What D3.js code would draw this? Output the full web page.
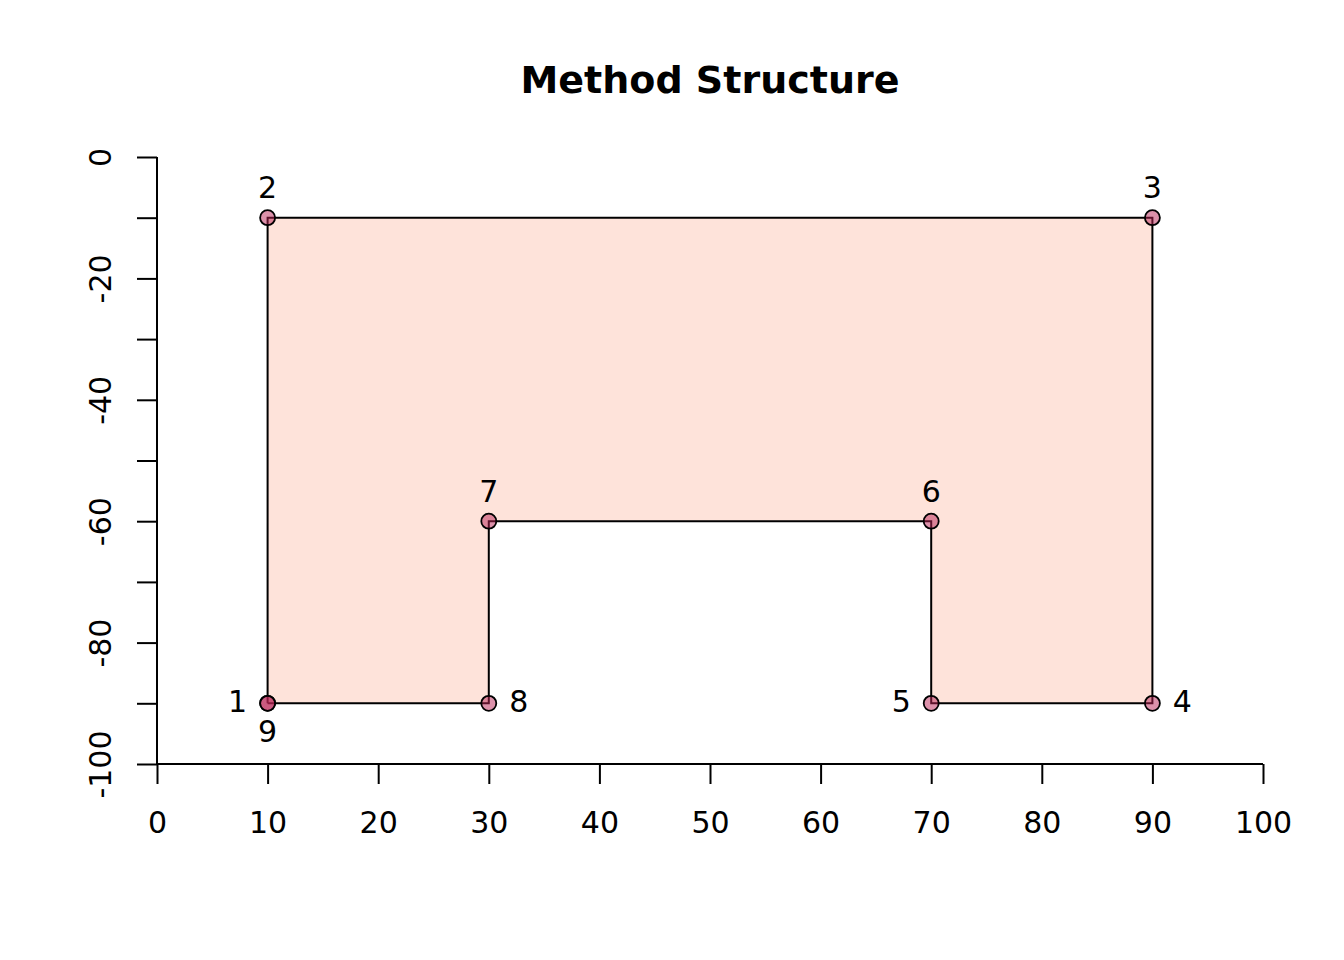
<!DOCTYPE html>
<html>
<head>
<meta charset="utf-8">
<script src="https://cdn.jsdelivr.net/npm/d3@7"></script>
<style>
  html, body { margin: 0; padding: 0; background: #fff; }
  svg text { font-family: "DejaVu Sans", sans-serif; }
</style>
</head>
<body>
<svg id="chart" width="1344" height="960"></svg>
<script>
// Vertices of the method outline, in drawing order (last closes the shape)
const xValues = [10, 10, 90, 90, 70, 70, 30, 30, 10];
const yValues = [-90, -10, -10, -90, -90, -60, -60, -90, -90];
const pointLabels = ["1", "2", "3", "4", "5", "6", "7", "8", "9"];
// Side of each vertex its number sits on
const labelSides = ["left", "above", "above", "right", "left", "above", "above", "right", "below"];
const xTicks = [0, 10, 20, 30, 40, 50, 60, 70, 80, 90, 100];
const yTicks = [0, -10, -20, -30, -40, -50, -60, -70, -80, -90, -100];
const yTickLabels = [0, -20, -40, -60, -80, -100];
const title = "Method Structure";

const svg = d3.select("#chart");
const fontSize = 30;

const x = d3.scaleLinear().domain([0, 100]).range([157, 1263]);
const y = d3.scaleLinear().domain([0, -100]).range([157, 764]);

const pts = xValues.map((v, i) => ({ x: v, y: yValues[i], label: pointLabels[i], side: labelSides[i] }));

// Filled polygon
svg.append("path")
  .datum(pts)
  .attr("d", d3.line().x(d => x(d.x)).y(d => y(d.y)))
  .attr("fill", "#fee3da")
  .attr("stroke", "#000")
  .attr("stroke-width", 2);

// Vertex markers
svg.append("g").selectAll("circle")
  .data(pts)
  .join("circle")
  .attr("cx", d => x(d.x))
  .attr("cy", d => y(d.y))
  .attr("r", 7.5)
  .attr("fill", "rgba(185,35,85,0.5)")
  .attr("stroke", "#000")
  .attr("stroke-width", 1.8);

// Vertex numbers
const off = 30;
const dx = { left: -off, right: off, above: 0, below: 0 };
const dy = { left: -2, right: -2, above: -off, below: off - 2 };
svg.append("g").selectAll("text")
  .data(pts)
  .join("text")
  .attr("x", d => x(d.x) + dx[d.side])
  .attr("y", d => y(d.y) + dy[d.side])
  .attr("text-anchor", "middle")
  .attr("dominant-baseline", "central")
  .attr("font-size", fontSize)
  .text(d => d.label);

// X axis
const xAxis = d3.axisBottom(x).tickValues(xTicks).tickFormat(d => String(d)).tickSize(20).tickPadding(27);
const gx = svg.append("g").attr("transform", `translate(0,${y(-100)})`).call(xAxis);
gx.select(".domain").attr("stroke-width", 2).attr("d", `M${x(0)},0H${x(100)}`);
gx.selectAll(".tick line").attr("stroke-width", 2);
gx.selectAll(".tick text").attr("font-size", fontSize).attr("font-family", "DejaVu Sans").attr("fill", "#000")
  .attr("dy", null).attr("dominant-baseline", "hanging");

// Y axis
const yAxis = d3.axisLeft(y).tickValues(yTicks).tickSize(20)
  .tickFormat(d => yTickLabels.includes(d) ? String(d) : "");
const gy = svg.append("g").attr("transform", `translate(${x(0)},0)`).call(yAxis);
gy.select(".domain").attr("stroke-width", 2).attr("d", `M0,${y(0)}V${y(-100)}`);
gy.selectAll(".tick line").attr("stroke-width", 2);
gy.selectAll(".tick text")
  .attr("font-size", fontSize).attr("font-family", "DejaVu Sans").attr("fill", "#000")
  .attr("x", null).attr("dy", null)
  .attr("text-anchor", "middle")
  .attr("dominant-baseline", "central")
  .attr("transform", "translate(-57,0) rotate(-90)");

// Title
svg.append("text")
  .attr("x", 710)
  .attr("y", 80)
  .attr("text-anchor", "middle")
  .attr("dominant-baseline", "central")
  .attr("font-size", 38)
  .attr("font-weight", "bold")
  .text(title);
</script>
</body>
</html>
